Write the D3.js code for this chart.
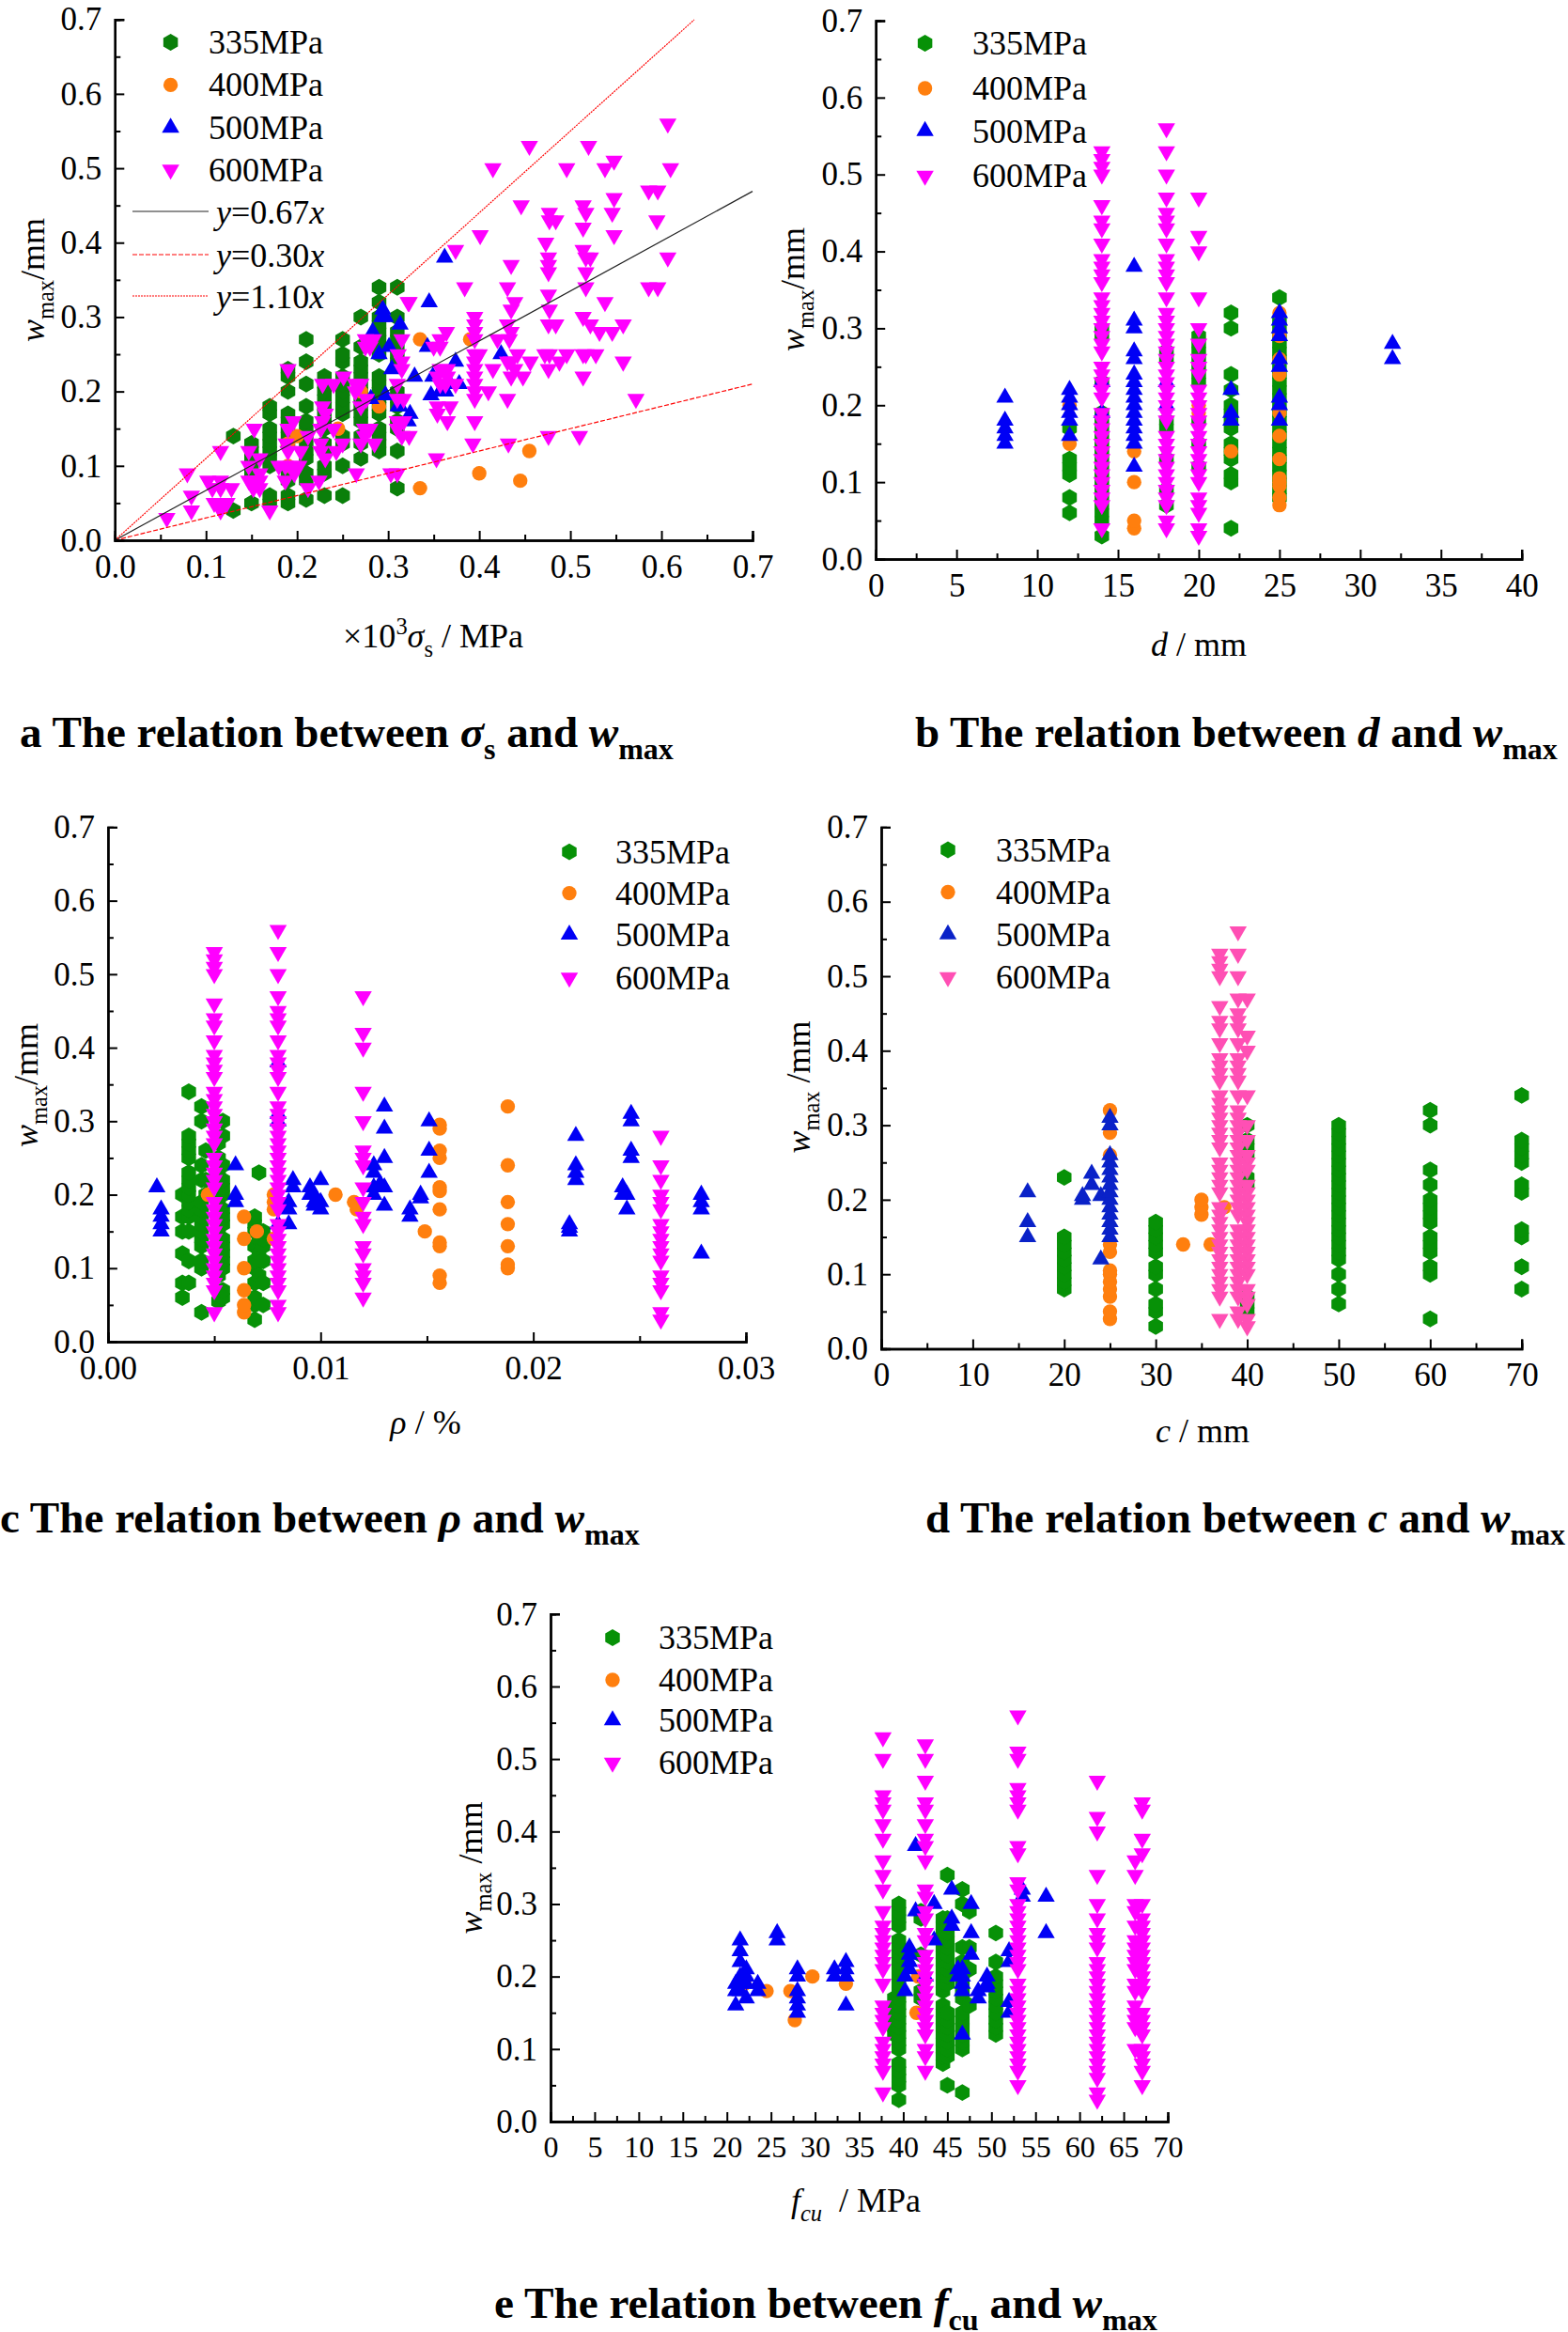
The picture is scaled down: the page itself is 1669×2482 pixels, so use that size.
<!DOCTYPE html>
<html>
<head>
<meta charset="utf-8">
<script src="https://cdn.jsdelivr.net/npm/d3@7"></script>
<style>
  body { margin: 0; background: #fff; }
  text { font-family: "Liberation Serif", serif; fill: #000; }
</style>
</head>
<body>
<svg id="chart" width="1669" height="2482"></svg>
<script>
// series names and line fits
var grades = ["335MPa", "400MPa", "500MPa", "600MPa"];
var fitLabels = ["0.67", "0.30", "1.10"];
var fitSlopes = [0.67, 0.30, 1.10];
var fitEnds = [0.7, 0.7, 0.636];
var wTicks = [0, 0.1, 0.2, 0.3, 0.4, 0.5, 0.6, 0.7];

// a: sigma_s (x10^3 MPa) vs w_max
var a335 = [
  [.13, [.04, .14]],
  [.15, [.05, .09, .10, .11, .12, .13]],
  [.17, [.05, .06, .10, .11, .12, .13, .14, .15, .17, .18]],
  [.19, [.05, .06, .08, .09, .13, .14, .15, .16, .17, .20, .22, .23]],
  [.21, [.055, .08, .09, .11, .12, .13, .14, .15, .16, .18, .21, .24, .27]],
  [.23, [.06, .09, .10, .12, .13, .15, .16, .17, .18, .19, .20, .21, .22]],
  [.25, [.06, .10, .13, .14, .17, .18, .19, .20, .21, .22, .24, .25, .27]],
  [.27, [.11, .13, .14, .16, .17, .18, .19, .20, .21, .22, .23, .24, .26, .30]],
  [.29, [.12, .13, .14, .15, .17, .18, .19, .20, .21, .22, .25, .26, .27, .28, .29, .30, .32, .34]],
  [.31, [.07, .12, .15, .16, .18, .19, .20, .24, .25, .26, .27, .28, .30, .34]]
];
var a400 = [[.335, .07], [.335, .27], [.39, .27], [.40, .09], [.445, .08], [.455, .12], [.29, .18], [.245, .15],
  [.20, .14], [.19, .13], [.19, .10], [.27, .20]];
var a500 = [[.362, .38], [.345, .32], [.294, .31], [.293, .30], [.297, .30], [.313, .29], [.283, .28], [.301, .26],
  [.29, .25], [.343, .26], [.424, .25], [.374, .24], [.304, .23], [.329, .22], [.349, .22], [.368, .21], [.378, .21],
  [.357, .20], [.363, .20], [.347, .195], [.281, .19], [.297, .195], [.311, .18], [.324, .17], [.322, .16], [.313, .18]];
var a600 = [[.607, .56], [.455, .53], [.52, .53], [.548, .51], [.538, .50], [.415, .50], [.496, .50], [.61, .50],
  [.586, .47], [.596, .47], [.446, .45], [.514, .45], [.548, .46], [.477, .44], [.517, .44], [.546, .44], [.477, .43],
  [.484, .43], [.595, .43], [.514, .42], [.401, .41], [.548, .41], [.473, .40], [.374, .39], [.514, .39], [.476, .38],
  [.517, .38], [.522, .38], [.607, .38], [.476, .37], [.435, .37], [.476, .36], [.517, .36], [.384, .34], [.431, .34],
  [.517, .34], [.586, .34], [.596, .34], [.439, .32], [.476, .33], [.323, .32], [.538, .32], [.435, .31], [.477, .31],
  [.514, .30], [.395, .30], [.395, .29], [.431, .29], [.522, .29], [.558, .29], [.476, .29], [.484, .29], [.395, .28],
  [.435, .28], [.532, .28], [.546, .28], [.364, .28], [.357, .27], [.35, .26], [.42, .27], [.433, .27], [.395, .27], [.357, .26],
  [.442, .25], [.472, .25], [.477, .25], [.496, .25], [.514, .25], [.517, .25], [.528, .25], [.395, .25], [.40, .25],
  [.395, .24], [.431, .24], [.435, .24], [.456, .24], [.488, .24], [.558, .24], [.395, .23], [.415, .23], [.439, .23],
  [.476, .23], [.357, .23], [.365, .23], [.395, .22], [.435, .22], [.448, .22], [.514, .22], [.354, .22], [.365, .22],
  [.395, .21], [.41, .20], [.395, .20], [.357, .21], [.363, .21], [.374, .21], [.395, .19], [.431, .19], [.572, .19],
  [.354, .18], [.368, .18], [.395, .16], [.354, .17], [.365, .16], [.393, .13], [.432, .13], [.476, .14], [.51, .14],
  [.353, .11], [.303, .09],
  [.0795, .09], [.057, .03], [.084, .06], [.084, .04], [.102, .08], [.116, .08], [.107, .07], [.116, .07], [.128, .07],
  [.109, .05], [.116, .05], [.123, .05], [.116, .04], [.116, .12], [.153, .15], [.147, .12], [.159, .11], [.147, .10],
  [.159, .09], [.147, .08], [.152, .08], [.159, .08], [.159, .07], [.152, .07], [.17, .04], [.18, .10], [.187, .10],
  [.195, .10], [.202, .10], [.187, .08], [.197, .09], [.188, .13], [.196, .16], [.19, .15], [.19, .12], [.204, .12],
  [.212, .14], [.212, .07], [.224, .08], [.228, .21], [.24, .21], [.251, .22], [.228, .18], [.228, .16], [.231, .17],
  [.226, .15], [.226, .13], [.226, .12], [.231, .11], [.24, .15], [.243, .12], [.25, .13], [.265, .09], [.27, .21],
  [.264, .21], [.264, .20], [.276, .19], [.27, .18], [.28, .15], [.274, .15], [.274, .14], [.27, .13], [.285, .13],
  [.31, .09], [.275, .27], [.284, .27], [.275, .26], [.28, .26], [.19, .23], [.315, .27], [.311, .25], [.315, .24],
  [.315, .23], [.31, .21], [.31, .19], [.317, .19], [.31, .16], [.317, .16], [.31, .15], [.315, .14], [.323, .14], [.322, .32]];

// b: bar diameter d (mm) vs w_max
var b335 = [
  [12, [.06, .08, .11, .12, .13, .17]],
  [14, [.03, .05, .06, .07, .08, .09, .10, .11, .12, .13, .14, .15, .16, .17, .18, .19, .23, .29, .30]],
  [18, [.07, .09, .13, .17, .18, .26, .27]],
  [20, [.12, .15, .18, .23, .24, .25, .26, .27, .28, .29]],
  [22, [.04, .10, .11, .13, .14, .15, .17, .18, .19, .20, .22, .24, .30, .32]],
  [25, [.08, .09, .10, .11, .12, .13, .14, .15, .16, .17, .18, .19, .20, .21, .22, .23, .24, .25, .26, .27, .28, .29, .30, .31, .34]]
];
var b400 = [
  [12, [.15, .20]],
  [16, [.04, .05, .10, .14]],
  [20, [.19, .20]],
  [22, [.14]],
  [25, [.07, .08, .095, .10, .105, .13, .16, .19, .24, .26, .29, .32]]
];
var b500 = [
  [8, [.15, .16, .17, .18, .21]],
  [12, [.16, .18, .19, .20, .21, .22]],
  [14, [.19, .23]],
  [16, [.12, .15, .16, .17, .18, .19, .20, .21, .22, .23, .24, .26, .27, .30, .31, .38]],
  [18, [.20, .23]],
  [22, [.18, .19, .22]],
  [25, [.18, .20, .21, .25, .26, .29, .30, .31, .32]],
  [32, [.26, .28]]
];
var b600 = [
  [14, [.04, .07, .08, .09, .10, .11, .12, .13, .14, .15, .16, .17, .18, .19, .21, .22, .23, .24, .25, .27, .28, .29, .30, .31, .32, .33, .34, .36, .37, .38, .39, .41, .43, .44, .46, .50, .51, .52, .53]],
  [18, [.04, .05, .07, .08, .09, .10, .11, .12, .13, .14, .15, .16, .18, .19, .20, .21, .22, .23, .24, .25, .26, .27, .28, .29, .30, .31, .32, .34, .36, .37, .38, .39, .41, .43, .44, .45, .47, .50, .53, .56]],
  [20, [.03, .04, .06, .07, .08, .10, .11, .12, .13, .14, .15, .16, .17, .18, .19, .20, .21, .22, .24, .25, .26, .28, .30, .34, .40, .42, .47]]
];

// c: reinforcement ratio rho vs w_max
var c335 = [
  [.0035, [.06, .08, .12, .15, .17, .20]],
  [.0038, [.08, .11, .15, .17, .18, .19, .20, .21, .22, .23, .25, .26, .27, .28, .34]],
  [.0044, [.04, .10, .11, .13, .14, .15, .16, .17, .18, .19, .22, .24, .30, .32]],
  [.0046, [.20, .22, .26]],
  [.0052, [.055, .09, .15, .19, .23, .25, .27]],
  [.0054, [.06, .07, .10, .11, .12, .13, .14, .16, .17, .18, .20, .21, .22, .24, .28, .30]],
  [.0069, [.03, .05, .06, .08, .10, .11, .13, .15, .16, .17]],
  [.0071, [.09, .12, .14, .23]],
  [.0073, [.05, .08, .11, .13, .14, .15]]
];
var c400 = [
  [.0047, [.20]],
  [.0064, [.04, .05, .07, .10, .14, .17]],
  [.007, [.15]],
  [.0078, [.14, .18, .19, .20]],
  [.0107, [.20]],
  [.01157, [.19]],
  [.0117, [.18]],
  [.0149, [.15]],
  [.0156, [.08, .09, .13, .135, .18, .205, .21, .25, .26, .29, .295]],
  [.0188, [.10, .105, .13, .16, .19, .24, .32]]
];
var c500 = [
  [.0023, [.21]], [.0025, [.15, .16, .17, .18]], [.006, [.19, .20, .24]],
  [.008, [.16, .30, .31, .38]], [.0085, [.16, .18, .19]], [.0087, [.21, .22]],
  [.0095, [.20, .21]], [.0097, [.185, .19, .20]], [.01, [.18, .19, .22]],
  [.0125, [.20, .21, .23, .24]], [.0128, [.21, .215]], [.013, [.185, .21, .25, .29, .32]],
  [.0142, [.17, .18]], [.0147, [.195, .20]], [.0151, [.23, .26, .30]],
  [.0217, [.15, .155, .16]], [.022, [.22, .23, .24, .28]],
  [.0242, [.20, .21]], [.0244, [.18, .20]], [.0246, [.25, .26, .30, .31]],
  [.0279, [.12, .18, .19, .20]]
];
var c600 = [
  [.005, [.04, .07, .08, .09, .10, .11, .12, .13, .14, .15, .16, .17, .18, .19, .21, .22, .23, .24, .25, .27, .28, .29, .30, .31, .32, .33, .34, .36, .37, .38, .39, .41, .43, .44, .46, .50, .51, .52, .53]],
  [.008, [.04, .05, .07, .08, .09, .10, .11, .12, .13, .14, .15, .16, .18, .19, .20, .21, .22, .23, .24, .25, .26, .27, .28, .29, .30, .31, .32, .34, .36, .37, .38, .39, .41, .43, .44, .45, .47, .50, .53, .56]],
  [.012, [.06, .08, .09, .10, .12, .13, .16, .17, .19, .21, .24, .25, .26, .30, .34, .40, .42, .47]],
  [.026, [.03, .04, .07, .08, .09, .11, .12, .13, .14, .15, .16, .18, .19, .20, .22, .24, .28]]
];

// d: cover c (mm) vs w_max
var d335 = [
  [20, [.08, .09, .10, .11, .12, .13, .14, .15, .23]],
  [30, [.03, .05, .06, .08, .10, .11, .13, .14, .15, .16, .17]],
  [40, [.05, .06, .07, .22, .23, .26, .27, .28, .30]],
  [50, [.06, .08, .10, .12, .13, .14, .15, .16, .17, .18, .19, .20, .21, .22, .23, .24, .25, .26, .27, .28, .29, .30]],
  [60, [.04, .10, .11, .13, .14, .15, .17, .18, .19, .20, .22, .24, .30, .32]],
  [70, [.08, .11, .15, .16, .21, .22, .25, .26, .27, .28, .34]]
];
var d400 = [
  [25, [.04, .05, .07, .08, .09, .10, .105, .13, .14, .26, .29, .32]],
  [33, [.14]],
  [35, [.18, .19, .20]],
  [36, [.14]],
  [37.5, [.19]]
];
var d500 = [
  [16, [.15, .17, .21]],
  [22, [.20, .205]],
  [23, [.22, .235]],
  [24, [.12, .205]],
  [25, [.15, .16, .17, .18, .19, .20, .21, .22, .23, .24, .25, .26, .30, .31]]
];
var d600 = [
  [37, [.04, .07, .08, .09, .10, .11, .12, .13, .14, .15, .16, .17, .18, .19, .21, .22, .23, .24, .25, .27, .28, .29, .30, .31, .32, .33, .34, .36, .37, .38, .39, .41, .43, .44, .46, .50, .51, .52, .53]],
  [39, [.04, .05, .07, .08, .09, .10, .11, .12, .13, .14, .15, .16, .18, .19, .20, .21, .22, .23, .24, .25, .26, .27, .28, .29, .30, .31, .32, .34, .36, .37, .38, .39, .41, .43, .44, .45, .47, .50, .53, .56]],
  [40, [.03, .04, .06, .07, .08, .10, .11, .12, .13, .14, .15, .16, .17, .18, .19, .20, .21, .22, .24, .25, .26, .28, .30, .34, .40, .42, .47]]
];

// e: concrete strength f_cu (MPa) vs w_max
var e335 = [
  [39, [.12, .13, .14, .15, .16, .17]],
  [39.5, [.03, .05, .06, .07, .08, .10, .11, .12, .13, .14, .15, .16, .17, .18, .19, .20, .21, .22, .23, .24, .25, .27, .28, .29, .30]],
  [42, [.17, .18, .23, .28, .29]],
  [44.5, [.08, .09, .10, .11, .12, .13, .14, .15, .16, .18, .19, .20, .21, .22, .23, .24, .25, .26, .27, .28]],
  [45, [.05, .09, .10, .11, .12, .13, .14, .15, .19, .20, .21, .22, .23, .24, .25, .26, .27, .28, .34]],
  [46.7, [.04, .10, .11, .12, .13, .14, .15, .17, .18, .19, .20, .21, .22, .24, .30, .32]],
  [47.5, [.16, .21, .24, .29]],
  [50.5, [.12, .13, .14, .15, .16, .17, .18, .19, .20, .22, .26]]
];
var e400 = [[22, .19], [24.5, .18], [27.2, .18], [27.7, .14], [29.7, .20], [33.5, .19], [41.5, .15], [41.7, .20]];
var e500 = [
  [21, [.16, .18, .19]], [21.5, [.18, .19, .20, .22, .235, .25]], [22.2, [.17, .19, .20, .21]],
  [23.5, [.18, .19]], [25.7, [.25, .26]], [28, [.15, .16, .17, .18, .20, .21]],
  [32.2, [.20, .21]], [33.5, [.16, .20, .21, .22]], [40.2, [.18, .20]], [40.7, [.21, .22, .23, .24]],
  [41.4, [.29, .38]], [42.5, [.20]], [43.5, [.25, .30]], [45.5, [.27, .28, .32]], [46.2, [.20, .21]],
  [46.7, [.12, .18, .19, .20, .21]], [47.7, [.23, .26, .30]], [48.5, [.17, .18]], [49.5, [.185, .19, .20]],
  [52, [.15, .165, .22, .235]], [53.5, [.31, .32]], [56.2, [.26, .31]]
];
var e600 = [
  [37.7, [.04, .07, .08, .09, .10, .11, .13, .14, .15, .16, .19, .21, .22, .23, .24, .25, .26, .27, .29, .32, .34, .36, .39, .41, .43, .44, .45, .50, .53]],
  [42.5, [.07, .09, .10, .12, .13, .14, .15, .16, .17, .18, .19, .20, .21, .22, .23, .25, .26, .28, .29, .31, .32, .36, .38, .39, .41, .43, .44, .47, .50, .52]],
  [53, [.05, .07, .08, .09, .10, .11, .12, .13, .14, .15, .16, .17, .18, .19, .21, .22, .23, .24, .25, .26, .27, .28, .29, .30, .32, .33, .37, .38, .43, .44, .45, .46, .50, .51, .56]],
  [62, [.03, .04, .06, .07, .08, .09, .10, .11, .12, .13, .14, .15, .16, .17, .18, .19, .20, .21, .22, .24, .25, .26, .28, .30, .34, .40, .42, .47]],
  [66.3, [.10, .13, .14, .15, .16, .18, .19, .21, .22, .23, .24, .25, .27, .29, .30, .34, .36]],
  [67.1, [.05, .07, .08, .09, .10, .12, .13, .14, .15, .18, .19, .20, .21, .22, .23, .24, .25, .26, .27, .28, .30, .37, .39, .43, .44]]
];

// columns [x, [y, y...]] -> points [x, y]
function flat(cols) {
  var out = [];
  cols.forEach(function (c) {
    c[1].forEach(function (v) { out.push([c[0], v]); });
  });
  return out;
}

var hexagon = {
  draw: function (ctx, size) {
    var r = Math.sqrt(size) / 2;
    for (var k = 0; k < 6; k++) {
      var ang = Math.PI / 2 + k * Math.PI / 3;
      if (k == 0) ctx.moveTo(r * Math.cos(ang), r * Math.sin(ang));
      else ctx.lineTo(r * Math.cos(ang), r * Math.sin(ang));
    }
    ctx.closePath();
  }
};

var shapes = [
  { path: d3.symbol().type(hexagon).size(320)(), rot: 0 },
  { path: d3.symbol().type(d3.symbolCircle).size(185)(), rot: 0 },
  { path: d3.symbol().type(d3.symbolTriangle).size(148)(), rot: 0 },
  { path: d3.symbol().type(d3.symbolTriangle).size(148)(), rot: 180 }
];

var normalColors = ["#079107", "#ff7f0e", "#0000f5", "#ff00ff"];
var panels = [
  {
    xr: [122.3, 801], yr: [575, 20.7], xd: [0, 0.7], xt: [0, .1, .2, .3, .4, .5, .6, .7], xm: [.05, .15, .25, .35, .45, .55, .65], xf: ".1f",
    series: [flat(a335), a400, a500, a600], colors: ["#0a7f0a", "#ff7f0e", "#0000f5", "#ff00ff"],
    legX: 181.6, legText: 222, legY: [45, 90.4, 136, 180.5], fits: true,
    yLabelX: 47, yLabelY: 298, yLabel: [{ t: "w", i: 1 }, { t: "max", sub: 1 }, { t: "/mm" }],
    xLabelX: 461, xLabelY: 689, xLabel: [{ t: "×10" }, { t: "3", sup: 1 }, { t: "σ", i: 1 }, { t: "s", sub: 1 }, { t: " / MPa" }],
    capX: 21, capY: 795, capW: 696, cap: [{ t: "a The relation between " }, { t: "σ", i: 1 }, { t: "s", sub: 1 }, { t: " and " }, { t: "w", i: 1 }, { t: "max", sub: 1 }]
  },
  {
    xr: [932.2, 1619.7], yr: [595, 22], xd: [0, 40], xt: [0, 5, 10, 15, 20, 25, 30, 35, 40], xm: [2.5, 7.5, 12.5, 17.5, 22.5, 27.5, 32.5, 37.5], xf: "d",
    series: [flat(b335), flat(b400), flat(b500), flat(b600)], colors: normalColors,
    legX: 984.6, legText: 1035, legY: [46, 94, 139.5, 187],
    yLabelX: 856, yLabelY: 308, yLabel: [{ t: "w", i: 1 }, { t: "max", sub: 1 }, { t: "/mm" }],
    xLabelX: 1276, xLabelY: 698, xLabel: [{ t: "d", i: 1 }, { t: " / mm" }],
    capX: 974, capY: 795, capW: 684, cap: [{ t: "b The relation between " }, { t: "d", i: 1 }, { t: " and " }, { t: "w", i: 1 }, { t: "max", sub: 1 }]
  },
  {
    xr: [114.9, 794], yr: [1428, 880.4], xd: [0, 0.03], xt: [0, .01, .02, .03], xm: [.005, .015, .025], xf: ".2f",
    series: [flat(c335), flat(c400), flat(c500), flat(c600)], colors: normalColors,
    legX: 606, legText: 655, legY: [906.6, 950.6, 994.7, 1040.5],
    yLabelX: 40, yLabelY: 1155, yLabel: [{ t: "w", i: 1 }, { t: "max", sub: 1 }, { t: "/mm" }],
    xLabelX: 453, xLabelY: 1526, xLabel: [{ t: "ρ", i: 1 }, { t: " / %" }],
    capX: 0, capY: 1631, capW: 681, cap: [{ t: "c The relation between " }, { t: "ρ", i: 1 }, { t: " and " }, { t: "w", i: 1 }, { t: "max", sub: 1 }]
  },
  {
    xr: [938, 1619.7], yr: [1435.5, 880.4], xd: [0, 70], xt: [0, 10, 20, 30, 40, 50, 60, 70], xm: [5, 15, 25, 35, 45, 55, 65], xf: "d",
    series: [flat(d335), flat(d400), flat(d500), flat(d600)], colors: ["#079107", "#ff7f0e", "#0a22c8", "#ff4fb4"],
    legX: 1009, legText: 1060, legY: [904.5, 949.5, 994.5, 1040],
    yLabelX: 862, yLabelY: 1157, yLabel: [{ t: "w", i: 1 }, { t: "max", sub: 1 }, { t: " /mm" }],
    xLabelX: 1280, xLabelY: 1535, xLabel: [{ t: "c", i: 1 }, { t: " / mm" }],
    capX: 985, capY: 1631, capW: 681, cap: [{ t: "d The relation between " }, { t: "c", i: 1 }, { t: " and " }, { t: "w", i: 1 }, { t: "max", sub: 1 }]
  },
  {
    xr: [586, 1243], yr: [2258, 1717.8], xd: [0, 70], xt: [0, 5, 10, 15, 20, 25, 30, 35, 40, 45, 50, 55, 60, 65, 70], xm: [2.5, 7.5, 12.5, 17.5, 22.5, 27.5, 32.5, 37.5, 42.5, 47.5, 52.5, 57.5, 62.5, 67.5], xf: "d",
    series: [flat(e335), e400, flat(e500), flat(e600)], colors: normalColors, tickSize: 32,
    legX: 652, legText: 701, legY: [1743, 1788, 1831, 1876],
    yLabelX: 513, yLabelY: 1988, yLabel: [{ t: "w", i: 1 }, { t: "max", sub: 1 }, { t: " /mm" }],
    xLabelX: 911, xLabelY: 2354, xLabel: [{ t: "f", i: 1 }, { t: "cu", sub: 1, i: 1 }, { t: "  / MPa" }],
    capX: 526, capY: 2467, capW: 706, cap: [{ t: "e The relation between " }, { t: "f", i: 1 }, { t: "cu", sub: 1 }, { t: " and " }, { t: "w", i: 1 }, { t: "max", sub: 1 }]
  }
];

var svg = d3.select("#chart");

// text with italics and sub/superscripts as tspans
function richText(g, parts, size, bold) {
  var text = g.append("text").attr("font-size", size).attr("font-weight", bold ? "bold" : null)
    .style("white-space", "pre");
  var shift = 0;
  parts.forEach(function (p) {
    var target = p.sub ? size * 0.28 : (p.sup ? -size * 0.38 : 0);
    text.append("tspan")
      .attr("dy", target - shift)
      .attr("font-style", p.i ? "italic" : null)
      .attr("font-size", (p.sub || p.sup) ? size * 0.68 : size)
      .text(p.t);
    shift = target;
  });
  return text;
}

panels.forEach(function (p) {
  var g = svg.append("g");
  var x = d3.scaleLinear().domain(p.xd).range(p.xr);
  var y = d3.scaleLinear().domain([0, 0.7]).range(p.yr);
  var fs = p.tickSize || 35;

  // points, lowest grade first
  p.series.forEach(function (pts, i) {
    g.append("g").selectAll("path")
      .data(pts)
      .enter()
      .append("path")
      .attr("d", shapes[i].path)
      .attr("transform", function (d) { return "translate(" + x(d[0]) + "," + y(d[1]) + ") rotate(" + shapes[i].rot + ")"; })
      .attr("fill", p.colors[i]);
  });

  // line fits sit on top of the points on panel a
  if (p.fits) {
    var dashes = [null, "5,2", "2,1"];
    var strokes = ["#222", "#f00", "#f00"];
    var lineG = g.append("g");
    fitSlopes.forEach(function (m, i) {
      lineG.append("line")
        .attr("x1", x(0)).attr("y1", y(0))
        .attr("x2", x(fitEnds[i])).attr("y2", y(fitEnds[i] * m))
        .attr("stroke", strokes[i]).attr("stroke-width", 1.2)
        .attr("stroke-dasharray", dashes[i]);
      var rowY = [225, 271, 315][i];
      lineG.append("line")
        .attr("x1", 141).attr("x2", 222).attr("y1", rowY).attr("y2", rowY)
        .attr("stroke", strokes[i]).attr("stroke-width", 1.2)
        .attr("stroke-dasharray", dashes[i]);
      richText(lineG, [{ t: "y", i: 1 }, { t: "=" + fitLabels[i] }, { t: "x", i: 1 }], 36)
        .attr("x", 230).attr("y", rowY + 13);
    });
  }

  // axes, ticks point into the plot
  var ax = g.append("g").attr("transform", "translate(0," + p.yr[0] + ")")
    .call(d3.axisBottom(x).tickValues(p.xt).tickSize(-10).tickPadding(15).tickFormat(d3.format(p.xf)));
  g.append("g").attr("transform", "translate(0," + p.yr[0] + ")")
    .call(d3.axisBottom(x).tickValues(p.xm).tickSize(-6).tickFormat(""));
  var ay = g.append("g").attr("transform", "translate(" + p.xr[0] + ",0)")
    .call(d3.axisLeft(y).tickValues(wTicks).tickSize(-10).tickPadding(14).tickFormat(d3.format(".1f")));
  g.append("g").attr("transform", "translate(" + p.xr[0] + ",0)")
    .call(d3.axisLeft(y).tickValues([.05, .15, .25, .35, .45, .55, .65]).tickSize(-6).tickFormat(""));
  g.selectAll(".domain").attr("stroke-width", 2.4).attr("stroke", "#000");
  g.selectAll(".tick line").attr("stroke-width", 2).attr("stroke", "#000");
  ax.selectAll("text").attr("font-size", fs);
  ay.selectAll("text").attr("font-size", 35);
  g.selectAll("g").attr("font-family", null);

  // legend
  grades.forEach(function (name, i) {
    g.append("path")
      .attr("d", shapes[i].path)
      .attr("transform", "translate(" + p.legX + "," + p.legY[i] + ") rotate(" + shapes[i].rot + ")")
      .attr("fill", p.colors[i]);
    g.append("text")
      .attr("x", p.legText).attr("y", p.legY[i] + 12)
      .attr("font-size", 36)
      .text(name);
  });

  // axis labels
  richText(g, p.yLabel, 36)
    .attr("text-anchor", "middle")
    .attr("transform", "translate(" + p.yLabelX + "," + p.yLabelY + ") rotate(-90)");
  richText(g, p.xLabel, 36)
    .attr("text-anchor", "middle")
    .attr("x", p.xLabelX).attr("y", p.xLabelY);

  // caption: the source type is tall and narrow, so squeeze it to the measured width
  var cap = richText(g, p.cap, 47, true);
  var len = cap.node().getComputedTextLength();
  cap.attr("transform", "translate(" + p.capX + "," + p.capY + ") scale(" + (p.capW / len) + ",1)");
});
</script>
</body>
</html>
